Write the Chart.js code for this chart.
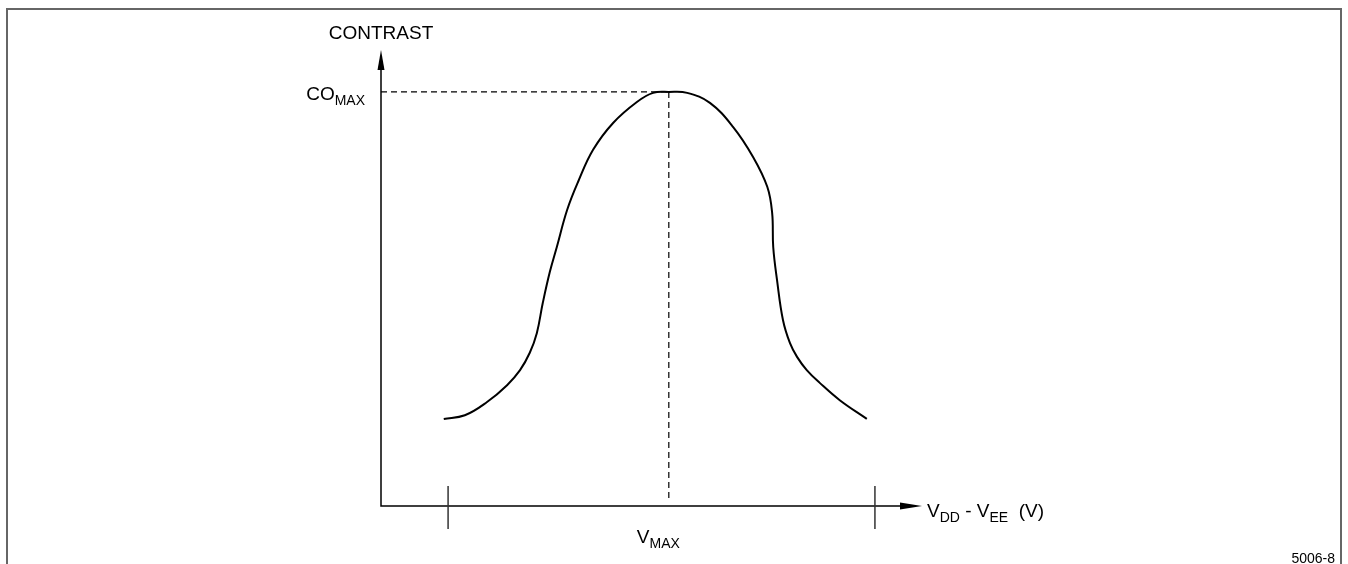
<!DOCTYPE html>
<html>
<head>
<meta charset="utf-8">
<script src="https://cdn.jsdelivr.net/npm/chart.js@4/dist/chart.umd.min.js"></script>
<style>
  body{ margin:0; background:#fff; }
  canvas{ display:block; }
</style>
</head>
<body>
<canvas id="grafico" width="1348" height="564"></canvas>
<script>
// ===============================
// DADOS
// ===============================
const curveX = [11.6, 15.5, 19.6, 23.3, 25.7, 27.5, 28.8, 29.9, 31.2, 32.5, 34.4, 36.4, 39.2, 42.9, 47.3, 50.3, 53.2,
                56.6, 60.8, 65.1, 68.8, 71.4, 72.3, 72.5, 73.2, 74.3, 75.6, 76.9, 78.7, 81.1, 84.8, 89.8];
const curveY = [19.1, 19.9, 22.8, 26.5, 29.8, 33.6, 37.9, 44.5, 51.3, 56.8, 64.9, 71.0, 78.1, 84.0, 88.6, 90.6, 90.8,
                90.6, 88.4, 83.1, 76.5, 70.0, 64.3, 56.8, 49.6, 40.8, 35.7, 32.7, 29.8, 27.0, 23.2, 19.1];
const xTicks = [12.4, 91.3];
const vMax = 53.2;
const coMax = 90.8;

const yTitle = "CONTRAST";
const coLabel = ["CO", "MAX"];
const vLabel = ["V", "MAX"];
const xTitle = [["V", "DD"], [" - V", "EE"], ["  (V)", ""]];
const figId = "5006-8";

const FONT = "Liberation Sans, Arial, Helvetica, sans-serif";

// ===============================
// TEXTO COM SUBSCRITO
// ===============================
function medirPartes(ctx, partes){
  let w = 0;
  partes.forEach(p=>{
    ctx.font = "19px " + FONT; w += ctx.measureText(p[0]).width;
    ctx.font = "14px " + FONT; w += ctx.measureText(p[1]).width;
  });
  return w;
}

function textoSub(ctx, partes, x, y){
  ctx.textAlign = "left";
  ctx.textBaseline = "alphabetic";
  partes.forEach(p=>{
    ctx.font = "19px " + FONT;
    ctx.fillText(p[0], x, y);
    x += ctx.measureText(p[0]).width;
    ctx.font = "14px " + FONT;
    ctx.fillText(p[1], x, y + 5);
    x += ctx.measureText(p[1]).width;
  });
}

// ===============================
// EIXOS / DECORAÇÃO
// ===============================
const eixosPlugin = {
  id: "eixos",
  afterDraw(chart){
    const ctx = chart.ctx;
    const xs = chart.scales.x, ys = chart.scales.y;
    const x0 = xs.getPixelForValue(0), xEnd = xs.getPixelForValue(100);
    const y0 = ys.getPixelForValue(0), yTop = ys.getPixelForValue(100);

    ctx.save();

    // moldura
    ctx.strokeStyle = "#666";
    ctx.lineWidth = 2;
    ctx.beginPath();
    ctx.moveTo(7, 564); ctx.lineTo(7, 9); ctx.lineTo(1341, 9); ctx.lineTo(1341, 564);
    ctx.stroke();

    // eixos
    ctx.strokeStyle = "#000";
    ctx.fillStyle = "#000";
    ctx.lineWidth = 1.5;
    ctx.beginPath();
    ctx.moveTo(x0, yTop + 15); ctx.lineTo(x0, y0); ctx.lineTo(xEnd - 15, y0);
    ctx.stroke();

    // setas
    ctx.beginPath();
    ctx.moveTo(x0, yTop); ctx.lineTo(x0 - 3.5, yTop + 20); ctx.lineTo(x0 + 3.5, yTop + 20); ctx.closePath();
    ctx.fill();
    ctx.beginPath();
    ctx.moveTo(xEnd, y0); ctx.lineTo(xEnd - 22, y0 - 3.5); ctx.lineTo(xEnd - 22, y0 + 3.5); ctx.closePath();
    ctx.fill();

    // marcas
    ctx.strokeStyle = "#333";
    ctx.lineWidth = 1.5;
    xTicks.forEach(t=>{
      const px = xs.getPixelForValue(t);
      ctx.beginPath();
      ctx.moveTo(px, y0 - 20); ctx.lineTo(px, y0 + 23);
      ctx.stroke();
    });

    // tracejadas
    const pxV = xs.getPixelForValue(vMax), pyC = ys.getPixelForValue(coMax);
    ctx.strokeStyle = "#000";
    ctx.lineWidth = 1.2;
    ctx.setLineDash([6, 4]);
    ctx.beginPath();
    ctx.moveTo(x0, pyC); ctx.lineTo(pxV, pyC);
    ctx.moveTo(pxV, pyC); ctx.lineTo(pxV, y0 - 6);
    ctx.stroke();
    ctx.setLineDash([]);

    // textos
    ctx.fillStyle = "#000";
    ctx.font = "19px " + FONT;
    ctx.textAlign = "center";
    ctx.textBaseline = "alphabetic";
    ctx.fillText(yTitle, x0, yTop - 11);

    const wCo = medirPartes(ctx, [coLabel]);
    textoSub(ctx, [coLabel], x0 - 16 - wCo, pyC + 8);

    textoSub(ctx, [vLabel], pxV - 32, y0 + 37);

    textoSub(ctx, xTitle, xEnd + 5, y0 + 11);

    ctx.font = "14px " + FONT;
    ctx.textAlign = "right";
    ctx.fillText(figId, 1335, 563);

    ctx.restore();
  }
};

// ===============================
// GRÁFICO
// ===============================
new Chart(document.getElementById("grafico"), {
  type: "line",
  data: {
    datasets: [{
      data: curveX.map((x, i) => ({ x: x, y: curveY[i] })),
      borderColor: "#000",
      borderWidth: 2,
      pointRadius: 0,
      fill: false,
      tension: 0.4
    }]
  },
  options: {
    responsive: false,
    animation: false,
    layout: { padding: { left: 381, right: 426, top: 50, bottom: 58 } },
    plugins: {
      legend: { display: false },
      tooltip: { enabled: false }
    },
    scales: {
      x: { type: "linear", min: 0, max: 100, display: false },
      y: { type: "linear", min: 0, max: 100, display: false }
    }
  },
  plugins: [eixosPlugin]
});
</script>
</body>
</html>
